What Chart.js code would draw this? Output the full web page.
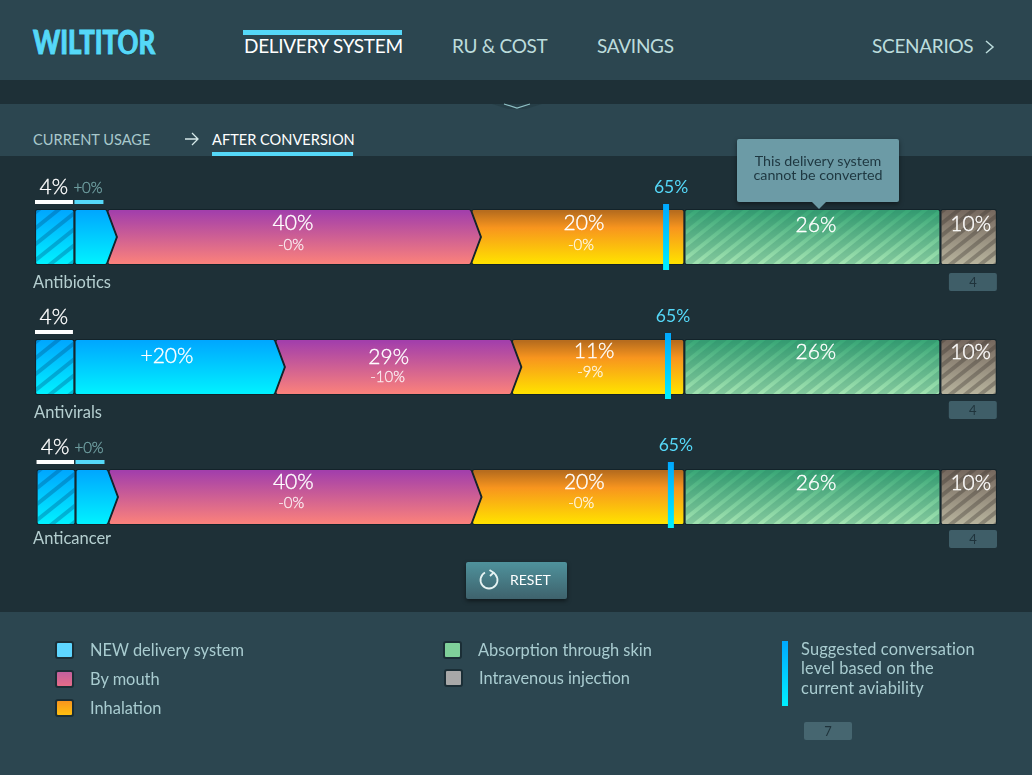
<!DOCTYPE html>
<html>
<head>
<meta charset="utf-8">
<script src="https://cdn.jsdelivr.net/npm/chart.js@4/dist/chart.umd.min.js"></script>
<style>
html, body { margin: 0; padding: 0; }
body { width: 1032px; height: 775px; overflow: hidden; background: #1e3037; font-family: Lato, sans-serif; position: relative; }
.abs { position: absolute; white-space: nowrap; }
.band { position: absolute; left: 0; width: 1032px; background: #2c4650; }
.nav { font-size: 19px; color: #bcdcdc; top: 34px; line-height: 24px; letter-spacing: -.3px; }
.sub { font-size: 14.6px; top: 131px; line-height: 18px; color: #a8c8cc; }
.cyan { position: absolute; background: #55d8f8; }
.swatch { position: absolute; width: 15px; height: 14px; border: 2px solid #1b2e36; border-radius: 3px; }
.legend-text { position: absolute; font-size: 16.4px; line-height: 20px; color: #a9ccd0; white-space: nowrap; }
#chartBox { position: absolute; left: 0; top: 0; width: 1032px; height: 775px; }
#note { position: absolute; left: 737px; top: 139px; width: 162px; height: 63px; background: #6c9ba6; border-radius: 2px;
  box-shadow: 0 2px 5px rgba(0,0,0,.45); color: #1e3740; font-size: 14.3px; line-height: 14px; text-align: center; padding-top: 15px; box-sizing: border-box; }
#note:after { content: ""; position: absolute; left: 75px; top: 63px; border-left: 7px solid transparent; border-right: 7px solid transparent; border-top: 7px solid #6c9ba6; }
#reset { position: absolute; left: 466px; top: 562px; width: 101px; height: 37px; border-radius: 2px;
  background: linear-gradient(#4f929c, #3e626c); box-shadow: 0 2px 4px rgba(0,0,0,.5); }
</style>
</head>
<body>
<div class="band" style="top:0;height:80px"></div>
<div class="band" style="top:104px;height:52px"></div>
<div class="band" style="top:612px;height:163px"></div>

<div class="abs" id="logo" style="left:33px;top:21px;font-size:33px;font-weight:900;color:#55d8f8;line-height:40px;transform:scaleX(.78);transform-origin:left;-webkit-text-stroke:1px #55d8f8;text-shadow:0 1px 1px #182a31">WILTITOR</div>
<svg class="abs" style="left:122px;top:36px" width="12" height="16" viewBox="0 0 12 16"><path d="M6 1 C7.5 5 10.5 7 10.5 10.5 A4.5 4.5 0 0 1 1.5 10.5 C1.5 7 4.5 5 6 1Z" fill="#2c4650"/></svg>

<div class="cyan" style="left:243px;top:30px;width:159px;height:5px"></div>
<div class="abs nav" style="left:244px;color:#fff">DELIVERY SYSTEM</div>
<div class="abs nav" style="left:452px">RU &amp; COST</div>
<div class="abs nav" style="left:597px">SAVINGS</div>
<div class="abs nav" style="left:872px">SCENARIOS</div>
<svg class="abs" style="left:984px;top:39px" width="11" height="16"><path d="M2 2 L9 8 L2 14" fill="none" stroke="#bcdcdc" stroke-width="1.5"/></svg>

<svg class="abs" style="left:492px;top:102px" width="50" height="10"><path d="M0 2 H50 L34 7 H16Z" fill="#1e3037" opacity=".35"/><path d="M12 2 L25 6 L38 2" fill="none" stroke="#8fc0c4" stroke-width="1.2"/></svg>

<div class="abs sub" style="left:33px">CURRENT USAGE</div>
<svg class="abs" style="left:184px;top:132px" width="16" height="14"><path d="M1 7 H14 M8 1 L14 7 L8 13" fill="none" stroke="#d5e8e8" stroke-width="1.3"/></svg>
<div class="abs sub" style="left:212px;color:#fff">AFTER CONVERSION</div>
<div class="cyan" style="left:212px;top:152px;width:141px;height:4px"></div>

<div id="chartBox"><canvas id="myChart"></canvas></div>

<div id="note">This delivery system<br>cannot be converted</div>

<div id="reset">
  <svg class="abs" style="left:12px;top:7px" width="22" height="22"><path d="M7 3.5 A8.5 8.5 0 1 0 15 3.5" fill="none" stroke="#e6f3f3" stroke-width="1.8"/><path d="M11.5 1 L15.5 3.6 L12 7" fill="none" stroke="#e6f3f3" stroke-width="1.8"/></svg>
  <div class="abs" style="left:44px;top:9px;font-size:14px;line-height:18px;color:#fff">RESET</div>
</div>

<div id="legend"></div>
<div class="abs" style="left:782px;top:641px;width:6px;height:65px;background:linear-gradient(#00a8ff,#00f0ff)"></div>
<div class="legend-text" style="left:801px;top:639px;line-height:19.3px;letter-spacing:.15px">Suggested conversation<br>level based on the<br>current aviability</div>
<div class="abs" style="left:804px;top:722px;width:48px;height:18px;background:#466670;border-radius:2px;text-align:center;font-size:13px;line-height:18px;color:#1f333b">7</div>

<script>
const categories = ['Antibiotics', 'Antivirals', 'Anticancer'];

// widths of the segments, in % of the full bar
const leadGap = [0, 0, 0.16];
const currentWidths = [4.1, 4.1, 4.05];
const newWidths = [3.43, 20.89, 3.43];
const mouthWidths = [37.84, 24.58, 37.79];
const inhalationWidths = [22.14, 17.93, 22.09];
const skinWidths = [26.61, 26.61, 26.61];
const injectionWidths = [5.87, 5.87, 5.87];

// the texts printed on the bars
const currentLabels = ['4%', '4%', '4%'];
const newLabels = ['+0%', '+20%', '+0%'];
const mouthLabels = ['40%', '29%', '40%'];
const mouthDeltas = ['-0%', '-10%', '-0%'];
const inhalationLabels = ['20%', '11%', '20%'];
const inhalationDeltas = ['-0%', '-9%', '-0%'];
const skinLabels = ['26%', '26%', '26%'];
const injectionLabels = ['10%', '10%', '10%'];

const suggestedLevels = [65.6, 65.8, 66.1];
const suggestedLabels = ['65%', '65%', '65%'];
const rowCounts = ['4', '4', '4'];

const legendLabels = ['NEW delivery system', 'By mouth', 'Inhalation', 'Absorption through skin', 'Intravenous injection'];

const FONT = 'Lato, sans-serif';

const legendPlaces = [
  { x: 55, y: 641, bg: '#5ed6ff' },
  { x: 55, y: 670, bg: 'linear-gradient(#c2609e,#e66c88)' },
  { x: 55, y: 699, bg: 'linear-gradient(#f8951e,#ffc010)' },
  { x: 443, y: 641, bg: '#7fd09a', tx: 478 },
  { x: 444, y: 669, bg: '#a8a8a8', tx: 479 }
];
legendLabels.forEach(function (text, i) {
  const p = legendPlaces[i];
  const box = document.getElementById('legend');
  box.insertAdjacentHTML('beforeend',
    '<div class="swatch" style="left:' + p.x + 'px;top:' + p.y + 'px;background:' + p.bg + '"></div>' +
    '<div class="legend-text" style="left:' + (p.tx || 90) + 'px;top:' + (p.y - 1) + 'px">' + text + '</div>');
});

// look of each dataset, same order as the datasets
const segStyles = [
  null,
  { stops: [[0, '#00a8ff'], [1, '#00f0ff']], hatch: { color: 'rgba(0,70,120,.32)', period: 16, thick: 5 } },
  { stops: [[0, '#00a8ff'], [1, '#00f0ff']], tip: true },
  { stops: [[0, '#a33fab'], [1, '#f9807c']], notch: true, tip: true },
  { stops: [[0, '#b86d1e'], [.32, '#f8951e'], [1, '#ffe000']], notch: true },
  { stops: [[0, '#3ba878'], [1, '#a0e2b0']], hatch: { color: 'rgba(35,120,95,.25)', period: 13, thick: 8 } },
  { stops: [[0, '#76695f'], [1, '#b6b29c']], hatch: { color: 'rgba(60,55,50,.36)', period: 12, thick: 5 } }
];

// where the text sits relative to the middle of its segment: [dx, dy, deltaDx, deltaDy] per row
const labelNudge = {
  2: [[-8, -11]],
  3: [[3.5, -14, 1.5, 8], [-5, -10, -6, 10], [3, -15, 1, 6]],
  4: [[6, -14, 3, 8], [-4, -16, -8, 5], [6, -15, 3, 6]],
  5: [[3.5, -12], [3.5, -15], [3.5, -14]],
  6: [[2, -13], [2, -15], [2, -14]]
};
const markerNudge = [0, -1, -2];
const nameNudge = [[-2, 46], [-1, 46], [-2, 42]];
const chipNudge = [0, -2, -3];

function segmentPath(ctx, left, right, top, bottom, style) {
  const mid = (top + bottom) / 2;
  const depth = 9.5;
  ctx.beginPath();
  ctx.moveTo(left, top);
  ctx.lineTo(right, top);
  if (style.tip) ctx.lineTo(right + depth, mid);
  ctx.lineTo(right, bottom);
  ctx.lineTo(left, bottom);
  if (style.notch) ctx.lineTo(left + depth, mid);
  ctx.closePath();
}

const segmentRenderer = {
  id: 'segmentRenderer',
  beforeDatasetDraw: function (chart, args) {
    const style = segStyles[args.index];
    if (!style) return false;
    const ctx = chart.ctx;
    args.meta.data.forEach(function (bar) {
      // path sits inside the edge, the round stroke brings it back out with soft corners
      const left = Math.min(bar.base, bar.x) + 2.6;
      const right = Math.max(bar.base, bar.x) - 2.6;
      const top = bar.y - bar.height / 2 + 1.5;
      const bottom = bar.y + bar.height / 2 - 1.5;
      const grad = ctx.createLinearGradient(0, top, 0, bottom);
      style.stops.forEach(function (s) { grad.addColorStop(s[0], s[1]); });
      ctx.save();
      ctx.lineJoin = 'round';
      segmentPath(ctx, left, right, top, bottom, style);
      ctx.strokeStyle = '#13232a';
      ctx.lineWidth = 5;
      ctx.stroke();
      ctx.fillStyle = grad;
      ctx.strokeStyle = grad;
      ctx.lineWidth = 3;
      ctx.fill();
      ctx.stroke();
      if (style.hatch) {
        ctx.beginPath();
        ctx.roundRect(left - 1.5, top - 1.5, right - left + 3, bottom - top + 3, 1.5);
        ctx.clip();
        const h = style.hatch;
        const rise = .8;
        const w = right - left + 4;
        ctx.fillStyle = h.color;
        for (let y0 = top - 2; y0 < bottom + w * rise + h.period; y0 += h.period) {
          ctx.beginPath();
          ctx.moveTo(left - 2, y0);
          ctx.lineTo(left - 2 + w, y0 - w * rise);
          ctx.lineTo(left - 2 + w, y0 - w * rise + h.thick);
          ctx.lineTo(left - 2, y0 + h.thick);
          ctx.closePath();
          ctx.fill();
        }
      }
      ctx.restore();
    });
    return false;
  },
  afterDatasetsDraw: function (chart) {
    const ctx = chart.ctx;
    const xScale = chart.scales.x;
    function text(str, x, y, size, color, align, weight) {
      ctx.font = (weight || 400) + ' ' + size + 'px ' + FONT;
      ctx.fillStyle = color;
      ctx.textAlign = align || 'center';
      ctx.textBaseline = 'middle';
      ctx.fillText(str, x, y);
      if (weight === 300) {
        // light face alone looks too thin on the gradients
        ctx.strokeStyle = color;
        ctx.lineWidth = .35;
        ctx.strokeText(str, x, y);
      }
    }
    const mains = { 2: newLabels, 3: mouthLabels, 4: inhalationLabels, 5: skinLabels, 6: injectionLabels };
    const deltas = { 3: mouthDeltas, 4: inhalationDeltas };
    categories.forEach(function (name, row) {
      const current = chart.getDatasetMeta(1).data[row];
      const fresh = chart.getDatasetMeta(2).data[row];
      const last = chart.getDatasetMeta(6).data[row];
      const top = current.y - current.height / 2;
      const bottom = current.y + current.height / 2;

      // labels above the two blue segments
      ctx.fillStyle = '#ffffff';
      ctx.fillRect(current.base, top - 10, current.x - current.base - 1.5, 4);
      text(currentLabels[row], (current.base + current.x) / 2 - 1, top - 23, 21, '#ffffff', 'center', 300);
      if (fresh.x - fresh.base < 50) {
        ctx.fillStyle = '#55d8f8';
        ctx.fillRect(fresh.base, top - 10, fresh.x - fresh.base - 4, 4);
        text(newLabels[row], (fresh.base + fresh.x) / 2 - 3, top - 22, 15, '#6f9ea0', 'center', 300);
      }

      // labels inside the segments
      Object.keys(mains).forEach(function (key) {
        const i = Number(key);
        const bar = chart.getDatasetMeta(i).data[row];
        if (i === 2 && bar.x - bar.base < 50) return;
        const mid = (bar.base + bar.x) / 2;
        const n = labelNudge[i][i === 2 ? 0 : row];
        text(mains[i][row], mid + n[0], bar.y + n[1], 21, '#ffffff', 'center', 300);
        if (deltas[i]) text(deltas[i][row], mid + n[2], bar.y + n[3], 15, 'rgba(255,255,255,.78)', 'center', 300);
      });

      // suggested level marker
      const mx = xScale.getPixelForValue(suggestedLevels[row]);
      const my = current.y + markerNudge[row];
      const mg = ctx.createLinearGradient(0, my - 33, 0, my + 33);
      mg.addColorStop(0, '#00a8ff');
      mg.addColorStop(1, '#00f0ff');
      ctx.fillStyle = mg;
      ctx.fillRect(mx - 3, my - 33, 6, 66);
      text(suggestedLabels[row], mx + 5, my - 50, 17.5, '#55d8f8');

      // row name and the small count chip
      text(name, xScale.left + nameNudge[row][0], current.y + nameNudge[row][1], 16.5, '#b5cfd0', 'left');
      const chipTop = bottom + 9 + chipNudge[row];
      ctx.fillStyle = '#3f5e68';
      ctx.beginPath();
      ctx.roundRect(last.x - 48, chipTop, 48, 18, 2);
      ctx.fill();
      text(rowCounts[row], last.x - 24, chipTop + 9.5, 13, '#1f333b');
    });
  }
};

const barCommon = { barThickness: 54 };

const config = {
  type: 'bar',
  data: {
    labels: categories,
    datasets: [
      Object.assign({ label: 'gap', data: leadGap }, barCommon),
      Object.assign({ label: 'Current', data: currentWidths }, barCommon),
      Object.assign({ label: legendLabels[0], data: newWidths }, barCommon),
      Object.assign({ label: legendLabels[1], data: mouthWidths }, barCommon),
      Object.assign({ label: legendLabels[2], data: inhalationWidths }, barCommon),
      Object.assign({ label: legendLabels[3], data: skinWidths }, barCommon),
      Object.assign({ label: legendLabels[4], data: injectionWidths }, barCommon)
    ]
  },
  options: {
    indexAxis: 'y',
    maintainAspectRatio: false,
    responsive: true,
    animation: false,
    layout: { padding: { left: 35, right: 35, top: 172, bottom: 213 } },
    scales: {
      x: { stacked: true, display: false, min: 0, max: 100 },
      y: { stacked: true, display: false }
    },
    plugins: {
      legend: { display: false },
      tooltip: { enabled: false },
      title: { display: false }
    }
  },
  plugins: [segmentRenderer]
};

const myChart = new Chart(document.getElementById('myChart'), config);
</script>
</body>
</html>
